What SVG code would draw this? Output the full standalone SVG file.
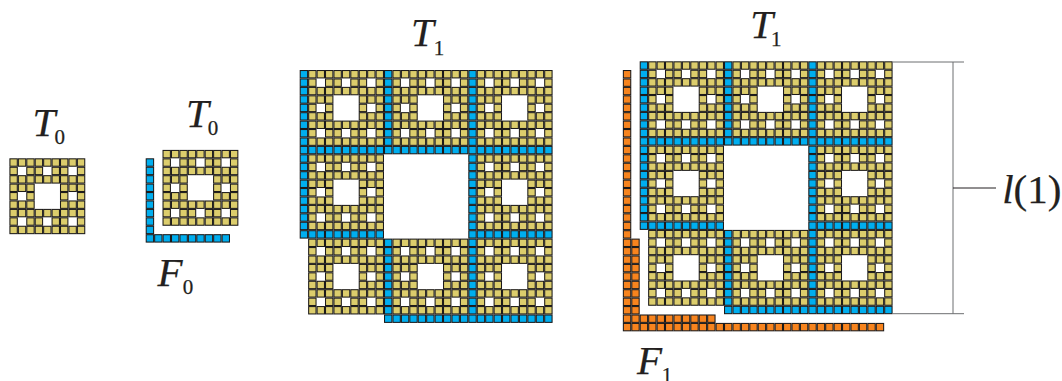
<svg xmlns="http://www.w3.org/2000/svg" width="1062" height="381" viewBox="0 0 1062 381">
<style>
.cell{stroke:#1c1a1a;stroke-width:.125}
.y{fill:#dccd6c}.b{fill:#00aeef}.o{fill:#f7841e}
text{stroke:#231f20;stroke-width:.25}
.m{font-family:"Liberation Serif","Times New Roman",serif;font-style:italic;font-size:41px;fill:#231f20}
.s{font-family:"Liberation Serif","Times New Roman",serif;font-size:21px;fill:#231f20}
.u{font-family:"Liberation Serif","Times New Roman",serif;font-size:41px;fill:#231f20}
.dim{stroke:#6d6e71;stroke-width:1;fill:none}
.tick{stroke:#231f20;stroke-width:1;fill:none}
</style>
<defs>
<rect id="c" class="cell" x=".0625" y=".0625" width=".875" height=".875"/>
<g id="r3"><use href="#c"/><use href="#c" x="1"/><use href="#c" x="2"/></g>
<g id="r9"><use href="#r3"/><use href="#r3" x="3"/><use href="#r3" x="6"/></g>
<g id="h10"><use href="#r9"/><use href="#c" x="9"/></g>
<g id="v3"><use href="#c"/><use href="#c" y="1"/><use href="#c" y="2"/></g>
<g id="v10"><use href="#v3"/><use href="#v3" y="3"/><use href="#v3" y="6"/><use href="#c" y="9"/></g>
<g id="rA"><use href="#c"/><use href="#c" x="2"/><use href="#c" x="3"/><use href="#c" x="5"/><use href="#c" x="6"/><use href="#c" x="8"/></g>
<g id="rB"><use href="#r3"/><use href="#r3" x="6"/></g>
<g id="rC"><use href="#c"/><use href="#c" x="2"/><use href="#c" x="6"/><use href="#c" x="8"/></g>
<g id="t0" class="y">
<use href="#r9"/><use href="#rA" y="1"/><use href="#r9" y="2"/>
<use href="#rB" y="3"/><use href="#rC" y="4"/><use href="#rB" y="5"/>
<use href="#r9" y="6"/><use href="#rA" y="7"/><use href="#r9" y="8"/>
</g>
<g id="f0" class="b"><use href="#v10"/><use href="#r9" x="1" y="9"/></g>
<g id="t1">
<use href="#t0" x="1"/><use href="#t0" x="11"/><use href="#t0" x="21"/>
<use href="#t0" x="1" y="10"/><use href="#t0" x="21" y="10"/>
<use href="#t0" x="1" y="20"/><use href="#t0" x="11" y="20"/><use href="#t0" x="21" y="20"/>
<use href="#f0"/><use href="#f0" x="10"/><use href="#f0" x="20"/>
<use href="#f0" y="10"/><use href="#f0" x="20" y="10"/>
<use href="#f0" x="10" y="20"/><use href="#f0" x="20" y="20"/>
</g>
</defs>
<rect width="1062" height="381" fill="#fff"/>
<g id="T0-left">
<use href="#t0" transform="translate(9.4 158.3) scale(8.43)"/>
<text class="m" x="32.6" y="135.7">T</text><text class="s" x="54.5" y="144">0</text>
</g>
<g id="T0-middle">
<use href="#t0" transform="translate(162.5 149.9) scale(8.43)"/>
<text class="m" x="185.9" y="126.7">T</text><text class="s" x="207.8" y="135">0</text>
</g>
<g id="F0">
<use href="#f0" transform="translate(145.7 158.3) scale(8.43)"/>
<text class="m" x="157.6" y="285.7">F</text><text class="s" x="182.8" y="294">0</text>
</g>
<g id="T1-center">
<use href="#t1" transform="translate(299.7 70) scale(8.43)"/>
<text class="m" x="411" y="45.7">T</text><text class="s" x="433.7" y="55">1</text>
</g>
<g id="T1-right">
<use href="#t1" transform="translate(639.7 61.3) scale(8.43)"/>
<text class="m" x="750.3" y="38.3">T</text><text class="s" x="771" y="45.7">1</text>
</g>
<g id="F1">
<g class="o" transform="translate(622.84 70) scale(8.43)">
<use href="#v10"/><use href="#v10" y="10"/><use href="#v10" y="20"/><use href="#c" y="30"/>
<use href="#h10" x="1" y="30"/><use href="#h10" x="11" y="30"/><use href="#h10" x="21" y="30"/>
<use href="#v10" x="1" y="20"/><use href="#r9" x="2" y="29"/>
</g>
<text class="m" x="637" y="374.3">F</text><text class="s" x="661.7" y="382">1</text>
</g>
<g id="connectors">
<path class="dim" d="M892.7 62H964M892.7 313.7H964M953 62V313.7"/>
<path class="tick" d="M953 188H996"/>
</g>
<g id="label-l1">
<text x="1002.2" y="202.7"><tspan class="m">l</tspan><tspan class="u">(1)</tspan></text>
</g>
</svg>
